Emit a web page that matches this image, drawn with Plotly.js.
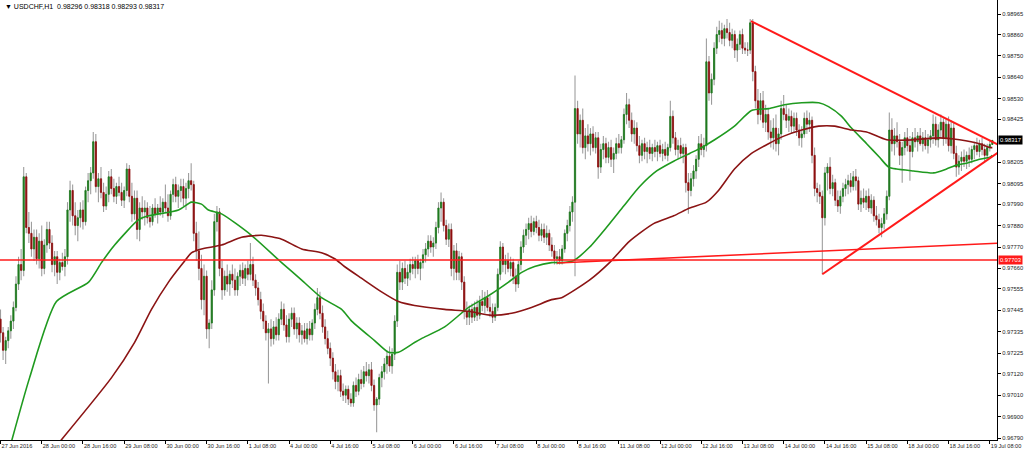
<!DOCTYPE html>
<html><head><meta charset="utf-8">
<script src="https://cdn.plot.ly/plotly-3.0.1.min.js"></script>
<style>html,body{margin:0;padding:0;background:#fff}#chart{width:1024px;height:458px}</style>
</head><body><div id="chart"></div>
<script>
// Hourly bars, USDCHF H1, 27 Jun 08:00 -> 19 Jul 09:00 (index = bar number)
const open = [
.9740,.9733,.9724,.9729,.9734,.9739,.9746,.9758,.9768,.9765,
.9813,.9787,.9784,.9776,.9782,.9771,.9780,.9766,.9778,.9786,
.9779,.9768,.9772,.9764,.9769,.9767,.9772,.9796,.9806,.9793,
.9788,.9792,.9796,.9790,.9806,.9811,.9815,.9831,.9808,.9812,
.9805,.9798,.9804,.9813,.9807,.9803,.9808,.9805,.9801,.9806,
.9817,.9803,.9794,.9802,.9786,.9797,.9795,.9797,.9792,.9790,
.9797,.9794,.9797,.9795,.9800,.9797,.9793,.9804,.9809,.9803,
.9806,.9808,.9802,.9807,.9811,.9809,.9784,.9775,.9766,.9750,
.9762,.9735,.9738,.9755,.9790,.9795,.9766,.9755,.9762,.9758,
.9763,.9760,.9755,.9762,.9765,.9761,.9766,.9763,.9768,.9760,
.9756,.9750,.9744,.9739,.9733,.9735,.9730,.9736,.9732,.9740,
.9745,.9737,.9731,.9740,.9743,.9735,.9738,.9732,.9734,.9730,
.9735,.9732,.9738,.9745,.9751,.9743,.9736,.9730,.9725,.9720,
.9713,.9708,.9711,.9703,.9701,.9704,.9699,.9697,.9706,.9703,
.9709,.9707,.9713,.9711,.9714,.9706,.9696,.9699,.9710,.9713,
.9717,.9721,.9716,.9722,.9739,.9764,.9759,.9766,.9761,.9764,
.9768,.9766,.9770,.9766,.9769,.9773,.9776,.9780,.9777,.9779,
.9787,.9797,.9800,.9788,.9781,.9786,.9766,.9775,.9764,.9772,
.9759,.9744,.9741,.9745,.9741,.9746,.9742,.9749,.9747,.9751,
.9746,.9744,.9741,.9746,.9763,.9777,.9768,.9770,.9766,.9769,
.9762,.9758,.9768,.9777,.9783,.9786,.9789,.9785,.9790,.9787,
.9783,.9786,.9782,.9784,.9778,.9775,.9771,.9772,.9770,.9776,
.9784,.9788,.9795,.9800,.9848,.9835,.9842,.9828,.9834,.9830,
.9835,.9828,.9833,.9818,.9827,.9830,.9823,.9828,.9822,.9825,
.9830,.9828,.9832,.9845,.9850,.9842,.9835,.9838,.9829,.9824,
.9830,.9826,.9828,.9825,.9828,.9826,.9829,.9825,.9827,.9824,
.9828,.9844,.9833,.9827,.9829,.9825,.9828,.9810,.9806,.9812,
.9816,.9822,.9830,.9827,.9829,.9872,.9856,.9863,.9879,.9886,
.9888,.9884,.9889,.9887,.9883,.9886,.9878,.9881,.9886,.9879,
.9878,.9878,.9892,.9867,.9852,.9845,.9852,.9841,.9845,.9836,
.9833,.9838,.9830,.9835,.9848,.9845,.9842,.9844,.9839,.9843,
.9837,.9833,.9835,.9843,.9840,.9842,.9824,.9807,.9805,.9803,
.9792,.9815,.9818,.9807,.9810,.9801,.9798,.9803,.9807,.9809,
.9811,.9808,.9813,.9811,.9799,.9802,.9800,.9803,.9797,.9801,
.9793,.9791,.9787,.9789,.9794,.9803,.9837,.9830,.9834,.9831,
.9824,.9828,.9833,.9829,.9826,.9833,.9831,.9834,.9830,.9833,
.9829,.9832,.9834,.9840,.9832,.9837,.9841,.9833,.9840,.9829,
.9838,.9825,.9818,.9821,.9823,.9821,.9824,.9822,.9827,.9829,
.9826,.9830,.9827,.9824,.9828,.98296];
const high = [
.9745,.9736,.9731,.9736,.9742,.9749,.9762,.9772,.9776,.9818,
.9815,.9795,.9790,.9786,.9786,.9784,.9788,.9781,.9790,.9790,
.9783,.9775,.9775,.9771,.9774,.9776,.9800,.9811,.9809,.9800,
.9796,.9800,.9801,.9808,.9815,.9818,.9836,.9835,.9815,.9818,
.9810,.9808,.9816,.9817,.9812,.9810,.9813,.9810,.9808,.9820,
.9819,.9810,.9806,.9806,.9800,.9803,.9801,.9800,.9798,.9799,
.9802,.9799,.9803,.9802,.9809,.9804,.9806,.9812,.9813,.9809,
.9812,.9812,.9810,.9815,.9820,.9811,.9790,.9785,.9773,.9768,
.9765,.9740,.9760,.9794,.9798,.9797,.9770,.9765,.9768,.9765,
.9768,.9766,.9764,.9768,.9769,.9768,.9770,.9779,.9772,.9763,
.9759,.9754,.9748,.9742,.9738,.9740,.9739,.9741,.9743,.9749,
.9748,.9742,.9743,.9746,.9746,.9741,.9741,.9737,.9738,.9738,
.9739,.9740,.9748,.9756,.9754,.9747,.9740,.9734,.9728,.9723,
.9717,.9714,.9714,.9707,.9706,.9706,.9702,.9708,.9710,.9712,
.9714,.9716,.9718,.9717,.9718,.9709,.9700,.9712,.9716,.9720,
.9724,.9726,.9725,.9742,.9768,.9770,.9769,.9770,.9768,.9771,
.9772,.9772,.9773,.9771,.9776,.9779,.9783,.9783,.9782,.9790,
.9800,.9805,.9802,.9791,.9789,.9789,.9778,.9779,.9775,.9774,
.9762,.9749,.9747,.9748,.9749,.9750,.9752,.9755,.9754,.9755,
.9752,.9748,.9748,.9766,.9780,.9779,.9773,.9774,.9772,.9771,
.9766,.9770,.9780,.9786,.9789,.9792,.9793,.9792,.9793,.9791,
.9789,.9789,.9788,.9786,.9782,.9778,.9775,.9776,.9778,.9786,
.9791,.9798,.9803,.9865,.9852,.9845,.9848,.9838,.9840,.9838,
.9839,.9836,.9836,.9830,.9834,.9833,.9831,.9832,.9828,.9833,
.9835,.9834,.9848,.9856,.9853,.9846,.9842,.9841,.9834,.9832,
.9833,.9831,.9832,.9830,.9832,.9831,.9832,.9830,.9831,.9830,
.9852,.9847,.9836,.9832,.9833,.9830,.9830,.9815,.9815,.9819,
.9824,.9834,.9835,.9833,.9884,.9875,.9866,.9882,.9890,.9893,
.9892,.9891,.9894,.9892,.9889,.9888,.9884,.9888,.9889,.9882,
.9882,.9894,.9894,.9870,.9858,.9856,.9857,.9850,.9848,.9842,
.9843,.9845,.9838,.9852,.9855,.9850,.9848,.9847,.9846,.9846,
.9840,.9839,.9846,.9847,.9846,.9844,.9828,.9810,.9809,.9806,
.9818,.9820,.9823,.9814,.9812,.9806,.9806,.9810,.9812,.9814,
.9815,.9816,.9817,.9813,.9806,.9807,.9806,.9807,.9804,.9803,
.9798,.9794,.9792,.9797,.9806,.9846,.9843,.9838,.9841,.9835,
.9831,.9836,.9838,.9834,.9836,.9838,.9836,.9838,.9836,.9837,
.9835,.9837,.9845,.9844,.9840,.9845,.9843,.9843,.9844,.9842,
.9841,.9829,.9824,.9826,.9827,.9826,.9828,.9829,.9831,.9833,
.9832,.9833,.9830,.9830,.9832,.98318];
const low = [
.9728,.9719,.9717,.9725,.9730,.9735,.9744,.9755,.9760,.9762,
.9784,.9779,.9772,.9770,.9768,.9766,.9762,.9763,.9774,.9776,
.9764,.9762,.9758,.9760,.9765,.9762,.9768,.9790,.9788,.9783,
.9780,.9787,.9786,.9788,.9800,.9804,.9812,.9805,.9800,.9802,
.9795,.9796,.9800,.9804,.9800,.9799,.9803,.9798,.9797,.9803,
.9800,.9790,.9791,.9781,.9780,.9791,.9788,.9789,.9787,.9788,
.9792,.9789,.9793,.9792,.9795,.9790,.9791,.9800,.9800,.9797,
.9800,.9798,.9796,.9802,.9806,.9780,.9770,.9760,.9745,.9742,
.9730,.9725,.9735,.9752,.9785,.9762,.9750,.9752,.9754,.9752,
.9756,.9752,.9752,.9757,.9758,.9757,.9760,.9760,.9757,.9752,
.9747,.9740,.9735,.9729,.9707,.9726,.9727,.9729,.9729,.9737,
.9734,.9728,.9728,.9736,.9732,.9730,.9728,.9727,.9728,.9727,
.9729,.9729,.9735,.9742,.9740,.9733,.9727,.9722,.9716,.9709,
.9704,.9703,.9700,.9698,.9697,.9696,.9695,.9695,.9700,.9701,
.9704,.9705,.9708,.9707,.9703,.9693,.9682,.9696,.9705,.9709,
.9712,.9713,.9712,.9719,.9736,.9755,.9755,.9758,.9757,.9760,
.9763,.9761,.9763,.9760,.9766,.9769,.9772,.9774,.9772,.9776,
.9784,.9790,.9785,.9778,.9777,.9762,.9760,.9760,.9760,.9755,
.9740,.9737,.9737,.9738,.9739,.9739,.9740,.9744,.9743,.9744,
.9741,.9738,.9739,.9744,.9760,.9764,.9763,.9764,.9762,.9758,
.9754,.9756,.9765,.9774,.9778,.9781,.9782,.9783,.9784,.9780,
.9780,.9779,.9778,.9775,.9772,.9768,.9768,.9768,.9768,.9774,
.9780,.9785,.9790,.9762,.9830,.9828,.9825,.9822,.9826,.9824,
.9826,.9825,.9812,.9815,.9822,.9820,.9820,.9818,.9815,.9822,
.9825,.9825,.9830,.9840,.9838,.9831,.9830,.9826,.9820,.9821,
.9822,.9820,.9822,.9821,.9823,.9821,.9823,.9821,.9822,.9821,
.9826,.9830,.9824,.9822,.9823,.9820,.9805,.9794,.9803,.9808,
.9812,.9818,.9824,.9823,.9826,.9852,.9850,.9860,.9876,.9882,
.9881,.9880,.9884,.9880,.9879,.9874,.9872,.9878,.9876,.9876,
.9875,.9876,.9862,.9848,.9840,.9842,.9838,.9836,.9832,.9828,
.9827,.9826,.9824,.9832,.9842,.9838,.9836,.9835,.9836,.9834,
.9829,.9828,.9833,.9835,.9836,.9820,.9803,.9800,.9799,.9763,
.9788,.9806,.9804,.9803,.9798,.9795,.9794,.9800,.9803,.9804,
.9805,.9806,.9806,.9796,.9795,.9797,.9796,.9795,.9794,.9790,
.9788,.9784,.9782,.9786,.9791,.9801,.9826,.9824,.9828,.9819,
.9810,.9824,.9826,.9811,.9823,.9828,.9826,.9829,.9826,.9827,
.9825,.9828,.9830,.9829,.9828,.9833,.9829,.9830,.9826,.9825,
.9822,.9813,.9814,.9816,.9818,.9817,.9818,.9820,.9822,.9824,
.9823,.9824,.9821,.9822,.9826,.98293];
const close = [
.9733,.9724,.9729,.9734,.9739,.9746,.9758,.9768,.9765,.9813,
.9787,.9784,.9776,.9782,.9771,.9780,.9766,.9778,.9786,.9779,
.9768,.9772,.9764,.9769,.9767,.9772,.9796,.9806,.9793,.9788,
.9792,.9796,.9790,.9806,.9811,.9815,.9831,.9808,.9812,.9805,
.9798,.9804,.9813,.9807,.9803,.9808,.9805,.9801,.9806,.9817,
.9803,.9794,.9802,.9786,.9797,.9795,.9797,.9792,.9790,.9797,
.9794,.9797,.9795,.9800,.9797,.9793,.9804,.9809,.9803,.9806,
.9808,.9802,.9807,.9811,.9809,.9784,.9775,.9766,.9750,.9762,
.9735,.9738,.9755,.9790,.9795,.9766,.9755,.9762,.9758,.9763,
.9760,.9755,.9762,.9765,.9761,.9766,.9763,.9768,.9760,.9756,
.9750,.9744,.9739,.9733,.9735,.9730,.9736,.9732,.9740,.9745,
.9737,.9731,.9740,.9743,.9735,.9738,.9732,.9734,.9730,.9735,
.9732,.9738,.9745,.9751,.9743,.9736,.9730,.9725,.9720,.9713,
.9708,.9711,.9703,.9701,.9704,.9699,.9697,.9706,.9703,.9709,
.9707,.9713,.9711,.9714,.9706,.9696,.9699,.9710,.9713,.9717,
.9721,.9716,.9722,.9739,.9764,.9759,.9766,.9761,.9764,.9768,
.9766,.9770,.9766,.9769,.9773,.9776,.9780,.9777,.9779,.9787,
.9797,.9800,.9788,.9781,.9786,.9766,.9775,.9764,.9772,.9759,
.9744,.9741,.9745,.9741,.9746,.9742,.9749,.9747,.9751,.9746,
.9744,.9741,.9746,.9763,.9777,.9768,.9770,.9766,.9769,.9762,
.9758,.9768,.9777,.9783,.9786,.9789,.9785,.9790,.9787,.9783,
.9786,.9782,.9784,.9778,.9775,.9771,.9772,.9770,.9776,.9784,
.9788,.9795,.9800,.9848,.9835,.9842,.9828,.9834,.9830,.9835,
.9828,.9833,.9818,.9827,.9830,.9823,.9828,.9822,.9825,.9830,
.9828,.9832,.9845,.9850,.9842,.9835,.9838,.9829,.9824,.9830,
.9826,.9828,.9825,.9828,.9826,.9829,.9825,.9827,.9824,.9828,
.9844,.9833,.9827,.9829,.9825,.9828,.9810,.9806,.9812,.9816,
.9822,.9830,.9827,.9829,.9872,.9856,.9863,.9879,.9886,.9888,
.9884,.9889,.9887,.9883,.9886,.9878,.9881,.9886,.9879,.9878,
.9878,.9892,.9867,.9852,.9845,.9852,.9841,.9845,.9836,.9833,
.9838,.9830,.9835,.9848,.9845,.9842,.9844,.9839,.9843,.9837,
.9833,.9835,.9843,.9840,.9842,.9824,.9807,.9805,.9803,.9792,
.9815,.9818,.9807,.9810,.9801,.9798,.9803,.9807,.9809,.9811,
.9808,.9813,.9811,.9799,.9802,.9800,.9803,.9797,.9801,.9793,
.9791,.9787,.9789,.9794,.9803,.9837,.9830,.9834,.9831,.9824,
.9828,.9833,.9829,.9826,.9833,.9831,.9834,.9830,.9833,.9829,
.9832,.9834,.9840,.9832,.9837,.9841,.9833,.9840,.9829,.9838,
.9825,.9818,.9821,.9823,.9821,.9824,.9822,.9827,.9829,.9826,
.9830,.9827,.9824,.9828,.98296,.98317];

// Moving averages (bar index, price)
const maFastBar = [4,11.3,21.7,34.2,39.2,44.3,53.6,57.5,69.1,74.1,78,80.7,85.8,97.4,109.1,116.9,124.6,132.4,136.3,145.2,150.6,154.5,160.7,163.4,172.4,181.7,189.4,197.2,202.3,207.3,213.9,217.8,222.4,228.7,235.2,241.9,248.1,254.7,261.3,267.5,272.1,277.2,284.9,291.5,298.1,304.3,311,317.6,321.4,326.5,330.3,336.2,341.2,344.7,347.8,354.4,362.2,367.2,371.1,375,380,384,385];
const maFastVal = [.9676,.9710,.9749,.9759,.9769,.9778,.9791,.9793,.9796,.9800,.9799,.9796,.9794,.9783,.9769,.9760,.9751,.9745,.9739,.9729,.9723,.9723,.9728,.9730,.9736,.9746,.9752,.9759,.9764,.9767,.9769,.9769,.9770,.9777,.9787,.9798,.9808,.9816,.9821,.9825,.9828,.9832,.9839,.9847,.9848,.9850,.9851,.9851,.9849,.9844,.9838,.9830,.9823,.9818,.9817,.9816,.9815,.9817,.9819,.9820,.9822,.9823,.9824];
const maSlowBar = [21.7,43.1,52,58.6,65.2,71,74.1,78,85.8,93.6,101.3,109.1,116.9,124.6,129.7,133.5,140.1,147.9,154.5,160.7,172.4,181.7,190.6,198.4,206.1,213.9,217.8,228.6,236.4,244.2,253.5,261.3,267.5,274,278.7,284.9,291.5,298.1,304.3,311,317.6,323.8,330.3,336.2,344,354.4,364.5,372.3,380,384,385];
const maSlowVal = [.9675,.9710,.9728,.9745,.9759,.9769,.9774,.9776,.9778,.9782,.9783,.9781,.9776,.9774,.9771,.9767,.9761,.9754,.9749,.9747,.9745,.9744,.9742,.9743,.9746,.9750,.9751,.9760,.9769,.9780,.9789,.9793,.9797,.9800,.9806,.9817,.9825,.9830,.9834,.9837,.9839,.9839,.9837,.9836,.9832,.9832,.9833,.9832,.9830,.9828,.9828];

// Drawn objects
const hLevel = 0.97703;
const supportBar = [216, 387.5];
const supportVal = [0.97688, 0.97790];
const triUpperBar = [291.3, 387.5];
const triUpperVal = [0.98929, 0.98293];
const triLowerBar = [319, 387.5];
const triLowerVal = [0.97630, 0.98257];

const lastPrice = 0.98317;
const headerText = "USDCHF,H1  0.98296 0.98318 0.98293 0.98317";

const xTickBars = [0,16,32,48,64,80,96,112,128,144,160,176,192,208,224,240,256,272,288,304,320,336,352,368,384];
const xTickText = ["27 Jun 2016","28 Jun 00:00","28 Jun 16:00","29 Jun 08:00","30 Jun 00:00","30 Jun 16:00","1 Jul 08:00","4 Jul 00:00","4 Jul 16:00","5 Jul 08:00","6 Jul 00:00","6 Jul 16:00","7 Jul 08:00","8 Jul 00:00","8 Jul 16:00","11 Jul 08:00","12 Jul 00:00","12 Jul 16:00","13 Jul 08:00","14 Jul 00:00","14 Jul 16:00","15 Jul 08:00","18 Jul 00:00","18 Jul 16:00","19 Jul 08:00"];
const yTickVals = [0.96790,0.96900,0.97010,0.97120,0.97225,0.97335,0.97445,0.97555,0.97660,0.97770,0.97880,0.97990,0.98095,0.98205,0.98425,0.98530,0.98640,0.98750,0.98860,0.98965];

const barIdx = open.map((_, i) => i);
// wicks: thin grey bars from low to high; bodies: candlestick limited to open/close
const wickSize = high.map((h, i) => h - low[i]);
const bodyTop = open.map((o, i) => Math.max(o, close[i]));
const bodyBot = open.map((o, i) => Math.min(o, close[i]));
const FONT = 'Liberation Sans, Arial, sans-serif';

const traces = [
  {type:'bar', x:barIdx, y:wickSize, base:low, width:0.42,
   marker:{color:'#9c9c9c', line:{width:0}}, hoverinfo:'skip', showlegend:false},
  {type:'candlestick', x:barIdx, open:open, high:bodyTop, low:bodyBot, close:close,
   increasing:{line:{color:'#1f7a1f', width:0.8}, fillcolor:'#1f7a1f'},
   decreasing:{line:{color:'#8e1010', width:0.8}, fillcolor:'#8e1010'},
   whiskerwidth:0, hoverinfo:'skip', showlegend:false},
  {type:'scatter', mode:'lines', x:maFastBar, y:maFastVal, line:{color:'#1f9a1f', width:1.6, shape:'spline', smoothing:0.6}, hoverinfo:'skip', showlegend:false},
  {type:'scatter', mode:'lines', x:maSlowBar, y:maSlowVal, line:{color:'#8b1414', width:1.6, shape:'spline', smoothing:0.6}, hoverinfo:'skip', showlegend:false},
  {type:'scatter', mode:'lines', x:supportBar, y:supportVal, line:{color:'#ff1a1a', width:1.5}, hoverinfo:'skip', showlegend:false},
  {type:'scatter', mode:'lines', x:triUpperBar, y:triUpperVal, line:{color:'#ff1a1a', width:2}, hoverinfo:'skip', showlegend:false},
  {type:'scatter', mode:'lines', x:triLowerBar, y:triLowerVal, line:{color:'#ff1a1a', width:2}, hoverinfo:'skip', showlegend:false}
];

const layout = {
  width:1024, height:458,
  margin:{l:0, r:27, t:0, b:18, pad:0},
  paper_bgcolor:'#ffffff', plot_bgcolor:'#ffffff',
  showlegend:false, barmode:'overlay',
  font:{family:FONT, size:7, color:'#000'},
  xaxis:{range:[-0.2, 386.8], rangeslider:{visible:false}, showgrid:false, zeroline:false,
    showline:true, linecolor:'#000', linewidth:1, ticks:'outside', ticklen:3, tickcolor:'#000',
    tickmode:'array', tickvals:xTickBars, ticktext:xTickText, ticklabelposition:'outside right',
    tickangle:0, automargin:false,
    tickfont:{family:FONT, size:5.6, color:'#222'}, fixedrange:true},
  yaxis:{side:'right', range:[0.96780, 0.99037], showgrid:false, zeroline:false,
    showline:true, linecolor:'#000', linewidth:1, ticks:'outside', ticklen:3, tickcolor:'#000',
    tickmode:'array', tickvals:yTickVals, tickformat:'.5f', automargin:false,
    tickfont:{family:FONT, size:5.8, color:'#222'}, fixedrange:true},
  shapes:[
    {type:'line', xref:'paper', x0:0, x1:1, yref:'y', y0:hLevel, y1:hLevel, line:{color:'#ff1a1a', width:1.5}}
  ],
  annotations:[
    {xref:'paper', yref:'paper', x:0.003, y:0.998, xanchor:'left', yanchor:'top', showarrow:false,
     text:'\u25BC ' + headerText, font:{family:FONT, size:7, color:'#000'}},
    {xref:'paper', yref:'y', x:1, y:lastPrice, xanchor:'left', yanchor:'middle', xshift:1, showarrow:false,
     text:lastPrice.toFixed(5), bgcolor:'#000', borderpad:1, font:{family:FONT, size:5.8, color:'#fff'}},
    {xref:'paper', yref:'y', x:1, y:hLevel, xanchor:'left', yanchor:'middle', xshift:1, showarrow:false,
     text:hLevel.toFixed(5), bgcolor:'#ff1a1a', borderpad:1, font:{family:FONT, size:5.8, color:'#fff'}}
  ]
};

Plotly.newPlot('chart', traces, layout, {staticPlot:true, displayModeBar:false});
</script>
</body></html>
